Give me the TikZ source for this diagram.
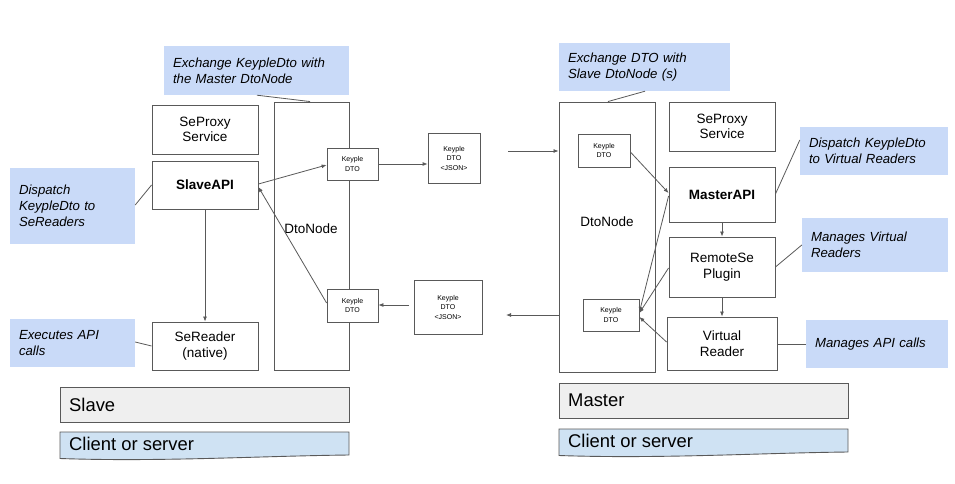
\documentclass[tikz,border=0pt]{standalone}
\usepackage{fontspec}
\setmainfont{Liberation Sans}
\usetikzlibrary{arrows.meta,calc}
\definecolor{edge}{HTML}{595959}
\definecolor{calloutfill}{HTML}{C9DAF8}
\definecolor{barfill}{HTML}{EFEFEF}
\definecolor{clientfill}{HTML}{CFE2F3}
\begin{document}
\begin{tikzpicture}[x=1pt,y=-1pt,
  box/.style={draw=edge,line width=0.9pt,fill=white,align=center,inner sep=0pt,
    font=\fontsize{13.5}{15.5}\selectfont},
  small/.style={draw=edge,line width=0.8pt,fill=white,align=center,inner sep=0pt,
    font=\fontsize{7}{9.5}\selectfont},
  callout/.style={fill=calloutfill,inner sep=0pt,align=left,
    font=\fontsize{13.2}{16}\selectfont\itshape},
  conn/.style={draw=edge,line width=0.8pt,-{Latex[length=5pt,width=4pt]}},
  cline/.style={draw=edge,line width=0.8pt},
  bar/.style={draw=edge,line width=0.9pt,fill=barfill,inner sep=0pt},
  bartext/.style={anchor=west,inner sep=0pt,font=\fontsize{18.4}{20}\selectfont},
]
\useasboundingbox (0,0) rectangle (955,484);

% ---------- Slave side ----------
\node[callout,minimum width=185,minimum height=49,text width=167] (cL1) at (256.5,70.5)
  {Exchange KeypleDto with\\the Master DtoNode};
\node[callout,minimum width=125,minimum height=76,text width=107] (cL2) at (72.5,206)
  {Dispatch\\KeypleDto to\\SeReaders};
\node[callout,minimum width=125,minimum height=48,text width=107] (cL3) at (72.5,343)
  {Executes API\\calls};

\node[box,minimum width=106,minimum height=49] (spL) at (205,129.5) {SeProxy\\Service};
\node[box,minimum width=106,minimum height=48] (slave) at (205,185) {\textbf{SlaveAPI}};
\node[box,minimum width=106,minimum height=48] (reader) at (205,346) {SeReader\\(native)};

\node[box,minimum width=75,minimum height=268] (dnL) at (311.5,236) {};
\node[inner sep=0pt,font=\fontsize{13.5}{15.5}\selectfont] (dnLlabel) at (311,229) {DtoNode};

\node[small,minimum width=51,minimum height=32] (kL1) at (352.5,164) {Keyple\\DTO};
\node[small,minimum width=51,minimum height=33] (kL2) at (352.5,305.5) {Keyple\\DTO};
\node[small,minimum width=52,minimum height=50] (jL1) at (454,158) {Keyple\\DTO\\<JSON>};
\node[small,minimum width=68,minimum height=54] (jL2) at (448,307) {Keyple\\DTO\\<JSON>};

% ---------- Master side ----------
\node[callout,minimum width=171,minimum height=48,text width=153] (cR1) at (644.5,67)
  {Exchange DTO with\\Slave DtoNode (s)};
\node[callout,minimum width=148,minimum height=48,text width=130] (cR2) at (874,151)
  {Dispatch KeypleDto\\to Virtual Readers};
\node[callout,minimum width=146,minimum height=54,text width=128] (cR3) at (875,245)
  {Manages Virtual\\Readers};
\node[callout,minimum width=142,minimum height=48,text width=124] (cR4) at (877,344)
  {Manages API calls};

\node[box,minimum width=96,minimum height=270] (dnR) at (607,237) {};
\node[inner sep=0pt,font=\fontsize{13.5}{15.5}\selectfont] (dnRlabel) at (607,222) {DtoNode};
\node[small,minimum width=52,minimum height=33] (kR1) at (604,150.5) {Keyple\\DTO};
\node[small,minimum width=56,minimum height=32] (kR2) at (611,315) {Keyple\\DTO};

\node[box,minimum width=106,minimum height=49] (spR) at (722,126.5) {SeProxy\\Service};
\node[box,minimum width=106,minimum height=55] (master) at (722,194.5) {\textbf{MasterAPI}};
\node[box,minimum width=106,minimum height=60] (plugin) at (722,267) {RemoteSe\\Plugin};
\node[box,minimum width=110,minimum height=53] (virt) at (722,343.5) {Virtual\\Reader};

% ---------- bars ----------
\node[bar,minimum width=289,minimum height=35] (slavebar) at (204.5,404.5) {};
\node[bartext] (slavebartext) at (69,404.5) {Slave};
\node[bar,minimum width=289,minimum height=35] (masterbar) at (703.5,400.5) {};
\node[bartext] (masterbartext) at (568,400.5) {Master};

\path[draw=edge,line width=0.9pt,fill=clientfill]
  (60,432) -- (349,432) -- (349,455) .. controls (260,456) and (160,462) .. (60,458.5) -- cycle;
\node[bartext] (clientL) at (69,443.5) {Client or server};
\path[draw=edge,line width=0.9pt,fill=clientfill]
  (559,429) -- (848,429) -- (848,452) .. controls (759,453) and (659,459) .. (559,455.5) -- cycle;
\node[bartext] (clientR) at (568,440.5) {Client or server};

% ---------- connectors ----------
\coordinate (jsonOut) at (508,151);
\coordinate (dnROut) at (506,315);
\coordinate (json2Out) at (409,305);

\draw[conn] (kL1.east) -- (kL1.east -| jL1.west);
\draw[conn] (jsonOut) -- (jsonOut -| dnR.west);
\draw[conn] (dnR.west |- dnROut) -- (dnROut);
\draw[conn] (json2Out) -- (json2Out -| kL2.east);

\draw[conn] (slave.east |- 0,184) -- (kL1.west |- 0,165);
\draw[conn] (kL2.west |- 0,303) -- (slave.east |- 0,187);
\draw[conn] (slave.south) -- (reader.north);

\draw[conn] (kR1.east |- 0,152) -- (master.west |- 0,193);
\draw[conn] (master.west |- 0,196) -- (kR2.east |- 0,312);
\draw[conn] (plugin.west |- 0,268) -- (kR2.east |- 0,313);
\draw[conn] (virt.west |- 0,342) -- (kR2.east |- 0,317);
\draw[conn] (master.south) -- (plugin.north);
\draw[conn] (plugin.south) -- (virt.north);

% callout lines
\draw[cline] (cL1.south -| 257,0) -- (dnL.north -| 310,0);
\draw[cline] (cL2.east |- 0,205) -- (slave.west |- 0,185);
\draw[cline] (cL3.east |- 0,342) -- (reader.west |- 0,346);
\draw[cline] (cR1.south -| 645,0) -- (dnR.north -| 608,0);
\draw[cline] (cR2.west |- 0,140) -- (master.east |- 0,194);
\draw[cline] (cR3.west |- 0,245) -- (plugin.east |- 0,267);
\draw[cline] (cR4.west) -- (virt.east |- cR4.west);
\end{tikzpicture}
\end{document}
